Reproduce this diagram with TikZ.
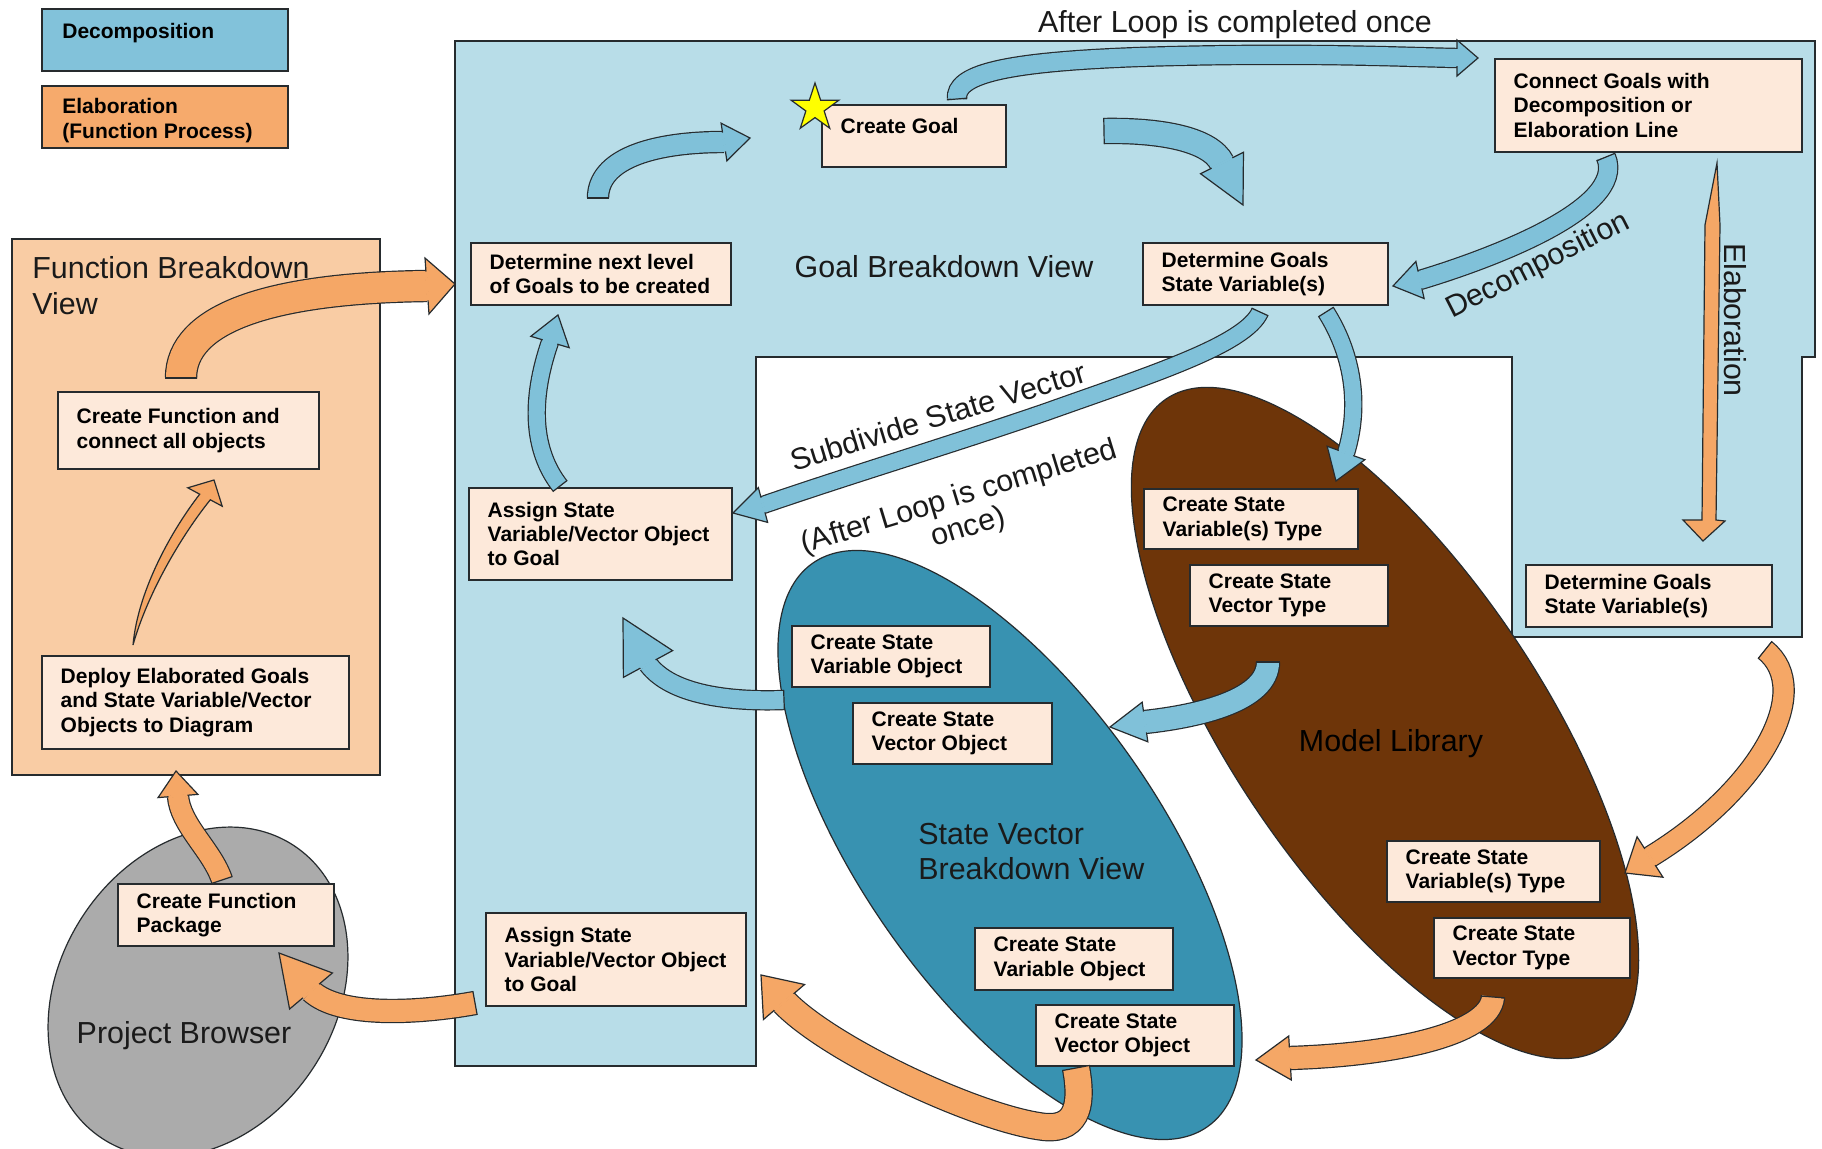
\documentclass[tikz,border=0pt]{standalone}
\usepackage{fontspec}
\setmainfont{Liberation Sans}
\usetikzlibrary{calc,shapes.geometric}

\definecolor{regionblue}{HTML}{B8DDE8}
\definecolor{decofill}{HTML}{82C2DA}
\definecolor{elabfill}{HTML}{F6AA6C}
\definecolor{funcfill}{HTML}{F9CCA4}
\definecolor{boxfill}{HTML}{FDE9DA}
\definecolor{edge}{HTML}{262B2E}
\definecolor{svteal}{HTML}{3892B1}
\definecolor{mlbrown}{HTML}{6E3509}
\definecolor{pbgrey}{HTML}{ABABAB}
\definecolor{arrowblue}{HTML}{80C1D9}
\definecolor{arroworange}{HTML}{F5A766}
\definecolor{staryellow}{HTML}{FFFF00}
\definecolor{labelink}{HTML}{1A1A1A}

% text box: name, x1, y1, x2, y2, text, vertical text shift (pt)
\newcommand\tbox[7]{%
  \pgfmathsetmacro\bw{(#4-#2)*0.5}%
  \pgfmathsetmacro\bh{(#5-#3)*0.5}%
  \node[stepbox, minimum width=\bw pt, minimum height=\bh pt] (#1) at ({(#2+#4)/2},{(#3+#5)/2}) {};
  \node[boxtext, anchor=west] (#1-t) at ([xshift=9.5pt,yshift=#7pt]#1.west) {#6};
}

% block arrow: fill, shaft width (pt), head half width (pt), tail, path to head base, head base, tip, first control
\newcommand\barrow[8]{%
  \pgfmathsetmacro\bhalf{#2/2-0.25}%
  \pgfmathsetmacro\btail{#2/2+0.55}%
  \draw[edgeline, double=#1, double distance=#2pt] #4 #5;
  \filldraw[fill=#1, edgeline, line join=miter] ($#6!#3pt!90:#7$) -- #7 -- ($#6!#3pt!-90:#7$) -- cycle;
  \draw[draw=#1, line width=1.3pt] ($#6!\bhalf pt!90:#7$) -- ($#6!\bhalf pt!-90:#7$);
  \draw[edgeline] ($#4!\btail pt!90:#8$) -- ($#4!\btail pt!-90:#8$);
}

\begin{document}
\begin{tikzpicture}[x=0.5pt,y=-0.5pt,
  edgeline/.style={draw=edge, line width=0.6pt},
  stepbox/.style={rectangle, draw=edge, line width=0.7pt, fill=boxfill, inner sep=0pt},
  legbox/.style={rectangle, draw=edge, line width=0.8pt, inner sep=0pt, minimum width=123pt, minimum height=31pt},
  boxtext/.style={font=\bfseries\fontsize{10.5}{12.2}\selectfont, align=left, inner sep=0pt, text=black},
  biglabel/.style={font=\fontsize{15.2}{18}\selectfont, text=labelink, inner sep=0pt},
]

\clip (0,0) rectangle (1822,1149);
\fill[white] (0,0) rectangle (1822,1149);

% goal breakdown region
\draw[fill=regionblue, edgeline] (455,41) -- (1815,41) -- (1815,357) -- (1802,357) -- (1802,637)
  -- (1512,637) -- (1512,357) -- (756,357) -- (756,1066) -- (455,1066) -- cycle;

% legend
\node[legbox, fill=decofill] (legdec) at (165,40) {};
\node[boxtext, anchor=west] (legdec-t) at (62,33) {Decomposition};
\node[legbox, fill=elabfill] (legela) at (165,117) {};
\node[boxtext, anchor=west, font=\bfseries\fontsize{10.5}{12.5}\selectfont] (legela-t) at (62,121) {Elaboration\\(Function Process)};

% function breakdown view
\node[rectangle, draw=edge, line width=0.7pt, fill=funcfill, minimum width=184pt, minimum height=268pt, inner sep=0pt] (funcview) at (196,507) {};

% ellipses
\draw[fill=pbgrey, edgeline, rotate around={-33:(198,992)}] (198,992) ellipse [x radius=69pt, y radius=87.5pt];
\draw[fill=svteal, edgeline, rotate around={35:(1010,845)}] (1010,845) ellipse [x radius=74.5pt, y radius=172pt];
\draw[fill=mlbrown, edgeline, rotate around={34:(1385,723)}] (1385,723) ellipse [x radius=77.5pt, y radius=195.5pt];

% boxes
\tbox{goal}{822}{105}{1006}{167}{Create Goal}{5}
\tbox{connect}{1495}{59}{1802}{152}{Connect Goals with\\Decomposition or\\Elaboration Line}{0}
\tbox{nextlvl}{471}{243}{731}{305}{Determine next level\\of Goals to be created}{0}
\tbox{detsv}{1143}{243}{1388}{305}{Determine Goals\\State Variable(s)}{0}
\tbox{assignup}{469}{488}{732}{580}{Assign State\\Variable/Vector Object\\to Goal}{0}
\tbox{cfunc}{58}{392}{319}{469}{Create Function and\\connect all objects}{0}
\tbox{deploy}{42}{656}{349}{749}{Deploy Elaborated Goals\\and State Variable/Vector\\Objects to Diagram}{0}
\tbox{cfpkg}{118}{884}{334}{946}{Create Function\\Package}{0}
\tbox{assignlow}{486}{913}{746}{1006}{Assign State\\Variable/Vector Object\\to Goal}{0}
\tbox{mlvarA}{1144}{489}{1358}{549}{Create State\\Variable(s) Type}{0}
\tbox{mlvecA}{1190}{565}{1388}{626}{Create State\\Vector Type}{0}
\tbox{svvarA}{792}{626}{990}{687}{Create State\\Variable Object}{0}
\tbox{svvecA}{853}{703}{1052}{764}{Create State\\Vector Object}{0}
\tbox{detsvB}{1526}{565}{1772}{627}{Determine Goals\\State Variable(s)}{0}
\tbox{mlvarB}{1387}{841}{1600}{902}{Create State\\Variable(s) Type}{0}
\tbox{mlvecB}{1434}{918}{1630}{978}{Create State\\Vector Type}{0}
\tbox{svvarB}{975}{928}{1173}{990}{Create State\\Variable Object}{0}
\tbox{svvecB}{1036}{1005}{1234}{1066}{Create State\\Vector Object}{0}

% decomposition arrows
\barrow{arrowblue}{10}{9.5}{(598,198)}{.. controls (598,160) and (650,142) .. (724,142)}{(724,142)}{(750,138)}{(598,160)}
\barrow{arrowblue}{12}{12}{(1104,131)}{.. controls (1160,130) and (1210,139) .. (1222,163)}{(1222,163)}{(1243,205)}{(1160,130)}
\barrow{arrowblue}{9}{9}{(957,99)}{.. controls (955,75) and (1000,62) .. (1139,57) .. controls (1300,52) and (1400,57) .. (1457,58)}{(1457,58)}{(1478,58)}{(955,75)}
\barrow{arrowblue}{9}{9.5}{(1606,157)}{.. controls (1628,210) and (1480,262) .. (1420,280)}{(1420,280)}{(1393,286)}{(1628,210)}
\barrow{arrowblue}{8}{9}{(1260,312)}{.. controls (1245,345) and (1150,375) .. (1046,412) .. controls (950,445) and (850,475) .. (763,505)}{(763,505)}{(733,513)}{(1245,345)}
\barrow{arrowblue}{8}{10}{(1326,312)}{.. controls (1350,350) and (1362,400) .. (1346,453)}{(1346,453)}{(1336,481)}{(1350,350)}
\barrow{arrowblue}{11}{10}{(1268,662)}{.. controls (1268,700) and (1200,716) .. (1145,722)}{(1145,722)}{(1110,727)}{(1268,700)}
\barrow{arrowblue}{9}{14}{(784,700)}{.. controls (730,702) and (671,695) .. (648,664)}{(648,664)}{(623,618)}{(730,702)}
\barrow{arrowblue}{8}{10}{(560,486)}{.. controls (532,450) and (530,400) .. (550,342)}{(550,342)}{(558,315)}{(532,450)}

% elaboration arrows
\barrow{arroworange}{15}{14}{(181,378)}{.. controls (181,318) and (270,288) .. (427,286)}{(427,286)}{(455,284)}{(181,318)}
\barrow{arroworange}{10}{10}{(222,880)}{.. controls (212,850) and (180,825) .. (178,796)}{(178,796)}{(176,771)}{(212,850)}
\barrow{arroworange}{11}{14}{(475,1003)}{.. controls (420,1013) and (340,1018) .. (311,991)}{(311,991)}{(279,953)}{(420,1013)}
\barrow{arroworange}{13}{13.5}{(1076,1068)}{.. controls (1082,1100) and (1080,1130) .. (1045,1127) .. controls (980,1120) and (830,1050) .. (784,1002)}{(784,1002)}{(761,975)}{(1082,1100)}
\barrow{arroworange}{11}{11}{(1493,997)}{.. controls (1490,1035) and (1390,1055) .. (1290,1058)}{(1290,1058)}{(1256,1060)}{(1490,1035)}
\barrow{arroworange}{10}{12}{(1765,650)}{.. controls (1815,690) and (1760,790) .. (1650,857)}{(1650,857)}{(1625,873)}{(1815,690)}
% tapered arrows
\filldraw[fill=arroworange, edgeline] (133,645) .. controls (138,590) and (172,530) .. (199.7,494.2)
  -- (187.8,487.8) -- (214,480) -- (222.2,506.2) -- (210.3,499.8)
  .. controls (182,535) and (148,592) .. (133,645) -- cycle;
\filldraw[fill=arroworange, edgeline] (1717,163) -- (1720,225) -- (1716,520) -- (1725,521)
  -- (1703,541) -- (1683,520) -- (1702,520) -- (1705,225) -- cycle;

% start marker
\node[star, star points=5, star point ratio=2.6, minimum size=25pt, inner sep=0pt,
  fill=staryellow, draw=edge, line width=0.6pt] (goalstar) at (815,108) {};

% labels
\node[biglabel] (looptop) at (1235,25) {After Loop is completed once};
\node[biglabel] (goalview) at (944,267) {Goal Breakdown View};
\node[biglabel, anchor=north west, align=left] (funcview-t) at (32,256) {Function Breakdown\\View};
\node[biglabel, text=black] (mllabel) at (1391,744) {Model Library};
\node[biglabel, anchor=north west, align=left, font=\fontsize{15.2}{17.5}\selectfont] (svlabel) at (918,823) {State Vector\\Breakdown View};
\node[biglabel] (pblabel) at (184,1036) {Project Browser};
\node[biglabel, rotate=27] (decolabel) at (1538,266) {Decomposition};
\node[biglabel, rotate=-90] (elablabel) at (1735,320) {Elaboration};
\node[biglabel, rotate=17] (subdiv) at (938,416) {Subdivide State Vector};
\node[biglabel, rotate=17, align=center, font=\fontsize{15.2}{16}\selectfont] (afterloop) at (964,513) {(After Loop is completed\\once)};

\end{tikzpicture}
\end{document}
